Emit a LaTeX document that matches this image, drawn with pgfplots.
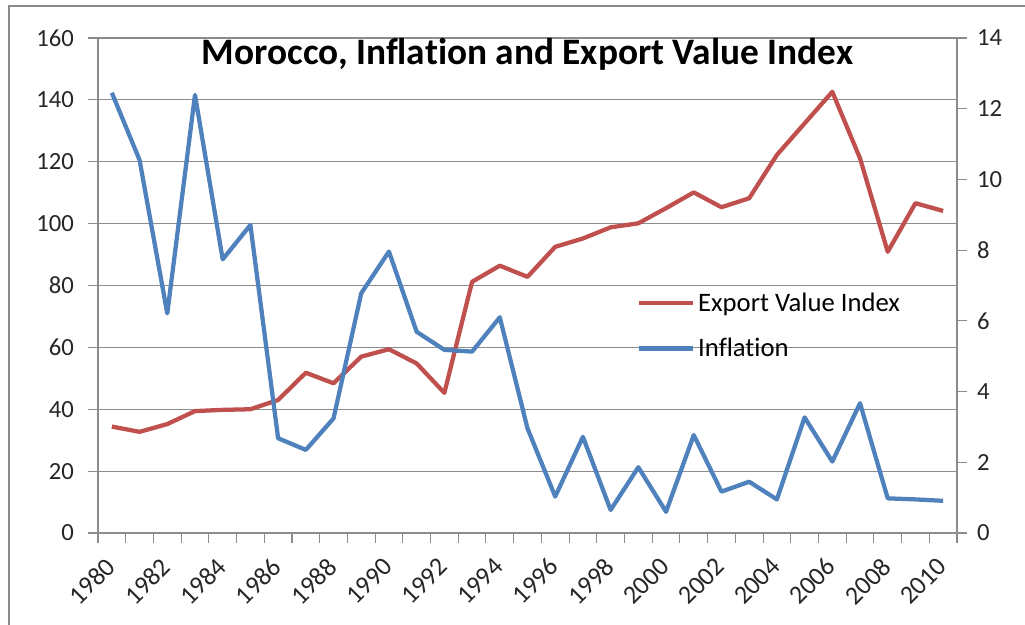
\documentclass[border=0pt]{standalone}
\usepackage{pgfplots}
\pgfplotsset{compat=1.18}
\usepackage{fontspec}
\setmainfont{Carlito}[Ligatures=NoCommon]
\definecolor{expc}{HTML}{C0504D}
\definecolor{infc}{HTML}{4F81BD}
\definecolor{gridc}{HTML}{8C8C8C}
\pgfplotstableread{
year export inflation
1980 34.4 12.45
1981 32.7 10.55
1982 35.2 6.21
1983 39.4 12.39
1984 39.8 7.74
1985 40.0 8.71
1986 43.0 2.68
1987 51.8 2.35
1988 48.4 3.24
1989 57.0 6.78
1990 59.4 7.96
1991 54.8 5.69
1992 45.3 5.18
1993 81.2 5.13
1994 86.4 6.10
1995 82.8 2.96
1996 92.5 1.03
1997 95.2 2.72
1998 98.8 0.65
1999 100.1 1.86
2000 105.0 0.60
2001 110.1 2.77
2002 105.3 1.17
2003 108.2 1.45
2004 122.2 0.95
2005 132.4 3.27
2006 142.6 2.02
2007 121.1 3.67
2008 90.9 0.98
2009 106.6 0.95
2010 104.1 0.91
}\datatable
\pgfplotsset{
  common/.style={
    at={(73.5pt,69pt)}, anchor=south west, scale only axis,
    width=644.25pt, height=371.25pt,
    xmin=1979.5, xmax=2010.5,
    axis line style={gridc, line width=0.8pt},
    tick style={gridc, line width=0.8pt},
    tick align=outside,
    major tick length=7.5pt,
    ticklabel style={font=\fontsize{18.5}{21}\selectfont, text=black!85},
    /pgf/number format/1000 sep={},
    /pgf/number format/assume math mode=true,
  }
}
\begin{document}
\begin{tikzpicture}
\useasboundingbox (0,0) rectangle (768.75pt,468.75pt);
\draw[color=gridc, line width=1.5pt] (6.4pt,-20pt) -- (6.4pt,463.9pt) -- (800pt,463.9pt);
\begin{axis}[common,
  ymin=0, ymax=160, ytick={0,20,...,160},
  ytick pos=left, xtick pos=bottom,
  xtick={1979.5,1980.5,...,2010.5}, xticklabels={},
  extra x ticks={1980,1982,...,2010},
  extra x tick style={major tick length=0pt, xmajorgrids=false,
     xticklabel style={xshift=-0.75pt, yshift=-22pt, rotate=45, anchor=east,
        inner sep=0pt, font=\fontsize{19.5}{22}\selectfont}},
  yticklabel style={xshift=-7pt},
  ymajorgrids, grid style={gridc, line width=0.8pt},
  title={\fontsize{28}{32}\selectfont\bfseries Morocco, Inflation and Export Value Index},
  title style={at={(0.5,0.931)}, anchor=base},
]
\addplot[expc, line width=3.2pt, line join=round] table[x=year, y=export] {\datatable};
\end{axis}
\begin{axis}[common,
  axis x line=none, axis y line*=right,
  ymin=0, ymax=14, ytick={0,2,...,14},
  yticklabel style={xshift=4pt},
  legend style={at={(0.622,0.496)}, anchor=north west, draw=none, fill=none,
     font=\fontsize{20}{23}\selectfont, row sep=14.5pt,
     legend cell align=left},
  legend image code/.code={\draw[#1] (0pt,0pt) -- (41pt,0pt);},
]
\addlegendimage{expc, line width=3.2pt}
\addlegendentry{Export Value Index}
\addplot[infc, line width=3.2pt, line join=round] table[x=year, y=inflation] {\datatable};
\addlegendentry{Inflation}
\end{axis}
\end{tikzpicture}
\end{document}
